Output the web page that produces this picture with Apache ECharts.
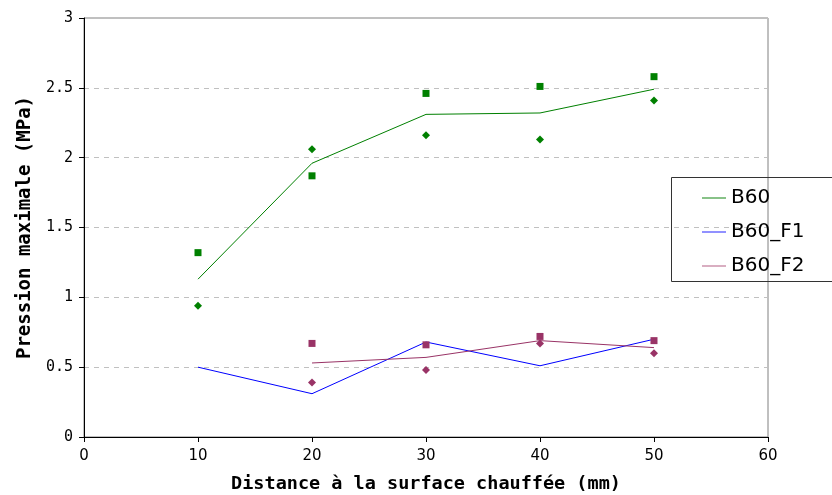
<!DOCTYPE html>
<html>
<head>
<meta charset="utf-8">
<title>Pression maximale</title>
<script src="https://cdn.jsdelivr.net/npm/echarts@6/dist/echarts.min.js"></script>
<style>
  html, body { margin: 0; padding: 0; background: #fff; }
  #chart { width: 832px; height: 495px; }
</style>
</head>
<body>
<div id="chart"></div>
<script>
// Distances (mm) and measured peak pressures (MPa)
const distances = [10, 20, 30, 40, 50];
const xTicks = [0, 10, 20, 30, 40, 50, 60];
const yTicks = [0, 0.5, 1, 1.5, 2, 2.5, 3];

// B60: two test points per distance and their mean
const b60Mean = [1.13, 1.96, 2.31, 2.32, 2.49];
const b60TestA = [1.32, 1.87, 2.46, 2.51, 2.58];
const b60TestB = [0.94, 2.06, 2.16, 2.13, 2.41];

// B60_F1: mean only
const b60F1Mean = [0.50, 0.31, 0.68, 0.51, 0.70];

// B60_F2: measured from 20 mm onward
const f2Distances = [20, 30, 40, 50];
const b60F2Mean = [0.53, 0.57, 0.69, 0.64];
const b60F2TestA = [0.67, 0.66, 0.72, 0.69];
const b60F2TestB = [0.39, 0.48, 0.67, 0.60];

const GREEN = '#008000';
const BLUE = '#0000ff';
const PURPLE = '#993366';

const pairs = (xs, ys) => xs.map((x, i) => [x, ys[i]]);

function lineSeries(name, xs, ys, color) {
  return {
    name, type: 'line', data: pairs(xs, ys),
    symbol: 'none', lineStyle: { color, width: 1 }, itemStyle: { color },
    animation: false, z: 2
  };
}
function pointSeries(name, xs, ys, color, symbol, size) {
  return {
    name, type: 'scatter', data: pairs(xs, ys),
    symbol, symbolSize: size, itemStyle: { color, opacity: 1 },
    animation: false, z: 3
  };
}

// Legend swatch: a thin horizontal stroke
const lineIcon = 'path://M0,0 L24,0 L24,1.2 L0,1.2 Z';

const chart = echarts.init(document.getElementById('chart'), null, { renderer: 'canvas' });

chart.setOption({
  backgroundColor: '#ffffff',
  animation: false,
  grid: {
    left: 84, right: 64, top: 18, bottom: 58,
    outerBoundsMode: 'none', containLabel: false,
    show: true, borderColor: '#808080', borderWidth: 1, backgroundColor: 'transparent'
  },
  xAxis: {
    type: 'value',
    min: xTicks[0], max: xTicks[xTicks.length - 1], interval: 10,
    name: 'Distance à la surface chauffée (mm)',
    nameLocation: 'middle', nameGap: 38,
    nameTextStyle: { fontFamily: 'DejaVu Sans Mono', fontWeight: 'bold', fontSize: 18.5, color: '#000' },
    axisLine: { lineStyle: { color: '#000', width: 1 } },
    axisTick: { show: true, inside: false, length: 5, lineStyle: { color: '#000' } },
    axisLabel: { fontFamily: 'DejaVu Sans', fontSize: 15, color: '#000', margin: 12 },
    splitLine: { show: false }
  },
  yAxis: {
    type: 'value',
    min: yTicks[0], max: yTicks[yTicks.length - 1], interval: 0.5,
    name: 'Pression maximale (MPa)',
    nameLocation: 'middle', nameGap: 46, nameRotate: 90,
    nameTextStyle: { fontFamily: 'DejaVu Sans Mono', fontWeight: 'bold', fontSize: 19, color: '#000' },
    axisLine: { show: true, lineStyle: { color: '#000', width: 1 } },
    axisTick: { show: true, inside: false, length: 5, lineStyle: { color: '#000' } },
    axisLabel: { fontFamily: 'DejaVu Sans Mono', fontSize: 15, color: '#000', margin: 11 },
    splitLine: { show: true, lineStyle: { color: '#c0c0c0', type: [5, 5], width: 1 } }
  },
  legend: {
    data: [
      { name: 'B60', icon: lineIcon, itemStyle: { color: '#3a9a3a' } },
      { name: 'B60_F1', icon: lineIcon, itemStyle: { color: '#4848ff' } },
      { name: 'B60_F2', icon: lineIcon, itemStyle: { color: '#c07898' } }
    ],
    orient: 'vertical',
    left: 697, top: 183,
    itemWidth: 24, itemHeight: 2, itemGap: 14,
    textStyle: { fontFamily: 'DejaVu Sans', fontSize: 20, color: '#000', lineHeight: 20 },
    selectedMode: false
  },
  graphic: [{
    type: 'rect',
    shape: { x: 671.5, y: 177.5, width: 175, height: 104 },
    style: { fill: 'transparent', stroke: '#333', lineWidth: 1 },
    z: 1
  }],
  series: [
    lineSeries('B60', distances, b60Mean, GREEN),
    lineSeries('B60_F1', distances, b60F1Mean, BLUE),
    lineSeries('B60_F2', f2Distances, b60F2Mean, PURPLE),
    pointSeries('B60 essai A', distances, b60TestA, GREEN, 'rect', 7),
    pointSeries('B60 essai B', distances, b60TestB, GREEN, 'diamond', 8),
    pointSeries('B60_F2 essai A', f2Distances, b60F2TestA, PURPLE, 'rect', 7),
    pointSeries('B60_F2 essai B', f2Distances, b60F2TestB, PURPLE, 'diamond', 8)
  ]
});
</script>
</body>
</html>
